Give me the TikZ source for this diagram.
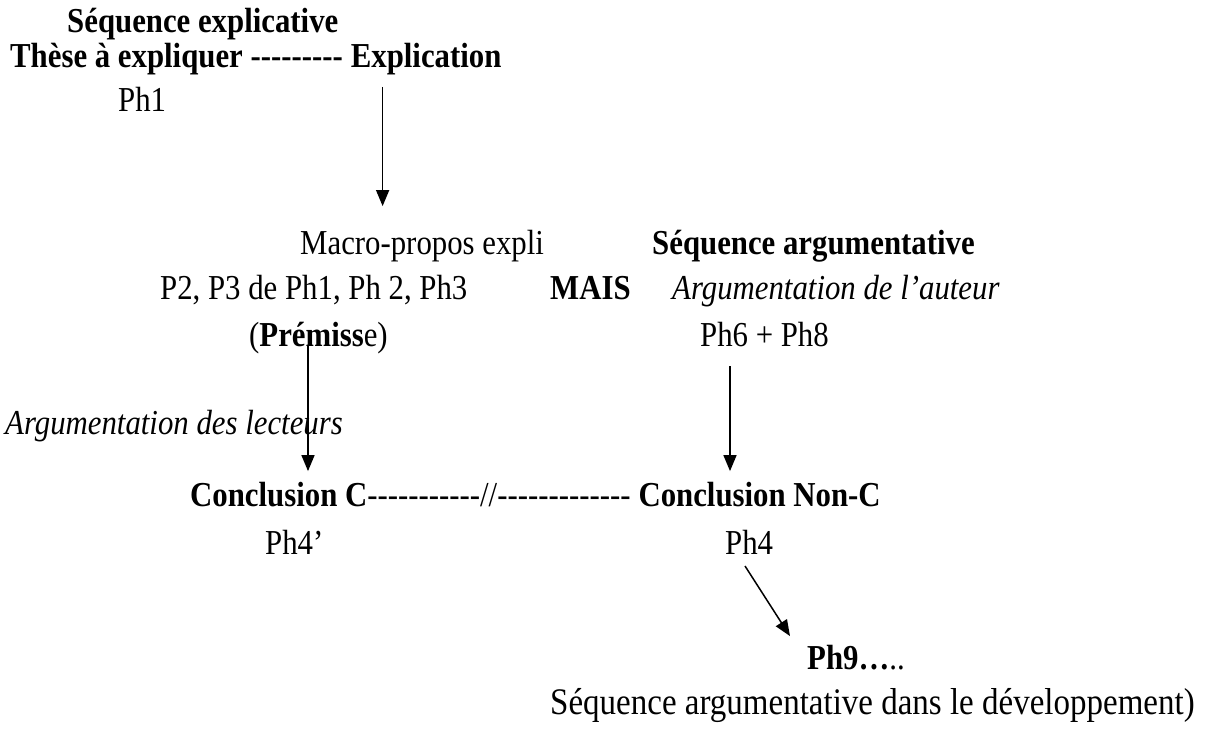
\documentclass[tikz,border=0pt]{standalone}
\usepackage{fontspec}
\setmainfont{Liberation Serif}[Ligatures=TeXOff, FakeStretch=0.88]
\usepackage{tikz}
\usetikzlibrary{positioning,arrows.meta}

\tikzset{
  txt/.style={anchor=base west, inner sep=0pt, text height=21.7pt, text depth=6.8pt},
  bftxt/.style={txt, font=\bfseries},
  ittxt/.style={txt, font=\itshape},
  arr/.style={line width=1.5pt, -{Triangle[length=16pt, width=13pt]}}
}

\begin{document}
\begin{tikzpicture}[x=1pt, y=-1pt]
\fontsize{35}{42}\selectfont
\useasboundingbox (0,0) rectangle (1215,738);

\node[bftxt](seqexp) at (67,33) {Séquence explicative};
\node[bftxt](these) at (10,68) {Thèse à expliquer ---------};
\node[bftxt, right=7.5pt of these.base east, anchor=base west](expl) {Explication};
\node[txt](ph1) at (118,112) {Ph1};

\node[txt](macro) at (300,254) {Macro-propos expli};
\node[bftxt](seqarg) at (652,254) {Séquence argumentative};

\node[txt](p2) at (160,299) {P2, P3 de Ph1, Ph 2, Ph3};
\node[bftxt](mais) at (550,299) {MAIS};
\node[ittxt](argaut) at (672,299) {Argumentation de l’auteur};

\node[txt](prem) at (249,346) {(\textbf{Prémiss}e)};
\node[txt](ph68) at (700,346) {Ph6 + Ph8};

\node[ittxt](arglect) at (5,434) {Argumentation des lecteurs};

\node[txt](concl) at (190,506) {\textbf{Conclusion C}-----------//-------------};
\node[bftxt, right=7.5pt of concl.base east, anchor=base west](conclnon) {Conclusion Non-C};

\node[txt](ph4p) at (265,554) {Ph4’};
\node[txt](ph4) at (725,554) {Ph4};

\node[txt](ph9) at (807,669) {\textbf{Ph9…}..};
\node[txt, font=\fontsize{37.5}{44}\selectfont](seqdev) at (550,714) {Séquence argumentative dans le développement)};

% fleches
\draw[arr] ([xshift=32pt, yshift=-12pt]expl.south west) -- ([xshift=32pt, yshift=26pt]expl.south west |- macro.north);
\draw[arr] ([xshift=59pt, yshift=-22pt]prem.north west) -- ([xshift=59pt, yshift=13pt]prem.north west |- concl.north);
\draw[arr] ([xshift=30pt, yshift=-13pt]ph68.south west) -- ([xshift=30pt, yshift=13pt]ph68.south west |- conclnon.north);
\draw[arr] ([xshift=20pt, yshift=-5pt]ph4.south west) -- ([xshift=-17pt, yshift=11pt]ph9.north west);

\end{tikzpicture}
\end{document}
